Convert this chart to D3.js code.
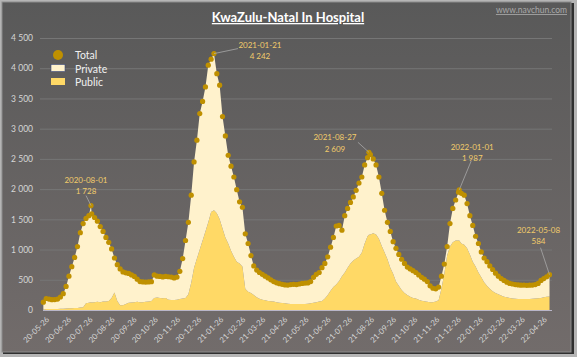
<!DOCTYPE html>
<html>
<head>
<meta charset="utf-8">
<script src="https://cdn.jsdelivr.net/npm/d3@7"></script>
<style>
  html, body { margin: 0; padding: 0; background: #9a9a9a; }
  svg { display: block; font-family: Lato, "Open Sans", sans-serif; }
</style>
</head>
<body>
<svg id="chart" width="577" height="357"></svg>
<script>
// ---------------- DATA ----------------
const startDate = "2020-05-26";   // first reading
const stepDays = 4;                // readings every 4 days
const totalBeds = [
  130,190,180,170,172,180,215,270,390,560,716,870,1050,1280,1430,1515,1560,1590,1530,1470,
  1380,1300,1200,1120,1010,860,750,680,630,615,605,580,555,510,470,465,462,465,468,580,
  560,555,548,555,550,545,530,545,640,850,1150,1450,1900,2450,2810,3250,3450,3690,4050,4150,
  4242,3910,3720,3200,2880,2560,2380,2200,1990,1790,1700,1260,1100,900,730,660,620,590,560,530,
  500,470,450,435,425,415,412,420,425,420,430,440,445,448,470,540,590,620,700,770,
  880,1040,1200,1390,1400,1320,1560,1680,1780,1870,1980,2100,2200,2400,2520,2570,2500,2400,2200,1930,
  1650,1450,1300,1130,1020,920,840,770,710,680,650,620,580,540,510,470,400,360,350,380,
  560,760,1050,1430,1680,1820,1950,1930,1900,1760,1560,1400,1220,1100,960,860,800,730,670,610,
  560,520,490,460,440,430,420,415,410,412,408,410,412,420,440,490,520,550,584
];
const publicBeds = [
  5,15,15,15,15,18,20,20,25,30,30,35,35,40,45,110,120,125,130,135,
  130,140,140,150,200,290,150,80,80,100,120,125,130,135,130,130,135,140,150,200,
  205,200,195,200,170,165,165,170,180,190,200,260,450,700,850,1000,1150,1300,1450,1620,
  1650,1600,1500,1350,1200,1100,980,880,800,770,720,350,300,280,250,210,185,170,160,150,
  145,140,130,120,115,110,105,100,100,100,100,100,100,105,110,120,130,140,150,190,
  250,320,380,420,480,560,620,700,770,820,850,880,950,1100,1220,1250,1270,1250,1180,1060,
  950,840,700,600,470,400,330,280,250,220,200,190,170,155,145,135,130,130,140,160,
  350,600,900,1050,1120,1150,1150,1100,1080,1020,920,800,720,620,540,460,400,350,310,280,
  260,240,220,210,200,190,185,180,180,180,180,180,185,190,195,200,210,220,225
];
// annotated points
const peakDates  = ["2020-08-01","2021-01-21","2021-08-27","2022-01-01","2022-05-08"];
const peakTotals = [1728, 4242, 2609, 1987, 584];
const peakPublic = [130, 1650, 1245, 1150, 225];
const yTicks = [0,500,1000,1500,2000,2500,3000,3500,4000,4500];
const seriesNames = ["Total","Private","Public"];
const titleText = "KwaZulu-Natal In Hospital";
const sourceText = "www.navchun.com";

// ---------------- LAYOUT ----------------
const W = 577, H = 357;
const plot = {left: 43, right: 552, top: 38, bottom: 310};
const labelOffsets = [[-5,-23],[46,-6],[-34,-12],[13,-40],[-11,-42]]; // label centre vs point
const leaderEnds = [[-5,-10],[24,-5],[-11,-10],[12,-29],[-9,-27]];
const colors = {total:"#BF9000", priv:"#FFF2CC", pub:"#FFD966", ann:"#F2CC6B"};

const parse = d3.timeParse("%Y-%m-%d");
const t0 = parse(startDate);
const DAY = 864e5;

// merge grid and annotated readings
const byTime = new Map();
totalBeds.forEach((v,i) => {
  const d = d3.timeDay.offset(t0, i*stepDays);
  byTime.set(+d, {date:d, total:v, pub:publicBeds[i]});
});
peakDates.forEach((s,i) => {
  const d = parse(s);
  byTime.set(+d, {date:d, total:peakTotals[i], pub:peakPublic[i]});
});
const data = Array.from(byTime.values()).sort((a,b)=>a.date-b.date)
  .map(d => ({date:d.date, total:d.total, Public:d.pub, Private:d.total-d.pub}));

const svg = d3.select("#chart");
const defs = svg.append("defs");
const grad = defs.append("linearGradient").attr("id","bg").attr("x1",0).attr("y1",0).attr("x2",0).attr("y2",1);
grad.append("stop").attr("offset","0%").attr("stop-color","#595959");
grad.append("stop").attr("offset","100%").attr("stop-color","#726c6b");

svg.append("rect").attr("x",0).attr("y",0).attr("width",W).attr("height",H).attr("fill","#b5b5b5");
svg.append("rect").attr("x",3).attr("y",3).attr("width",W-6).attr("height",H-6).attr("fill","#2f2f2f");
svg.append("rect").attr("x",2).attr("y",2).attr("width",W-8).attr("height",H-7)
  .attr("fill","url(#bg)").attr("stroke","#8c8c8c").attr("stroke-width",1);

const x = d3.scaleTime()
  .domain([new Date(+t0 - 0.5*DAY), new Date(+t0 + 715.5*DAY)])
  .range([plot.left, plot.right]);
const y = d3.scaleLinear().domain([0,4500]).range([plot.bottom, plot.top]);

const fmtNum = d3.formatLocale({decimal:".", thousands:" ", grouping:[3], currency:["",""]}).format(",d");

// gridlines
svg.append("g").selectAll("line").data(yTicks.filter(v=>v>0)).join("line")
  .attr("x1", plot.left-3).attr("x2", plot.right)
  .attr("y1", d=>y(d)+0.5).attr("y2", d=>y(d)+0.5)
  .attr("stroke","#767676").attr("stroke-width",1);

// stacked areas
const stack = d3.stack().keys(["Public","Private"]);
const layers = stack(data);
const area = d3.area().x(d=>x(d.data.date)).y0(d=>y(d[0])).y1(d=>y(d[1]));
svg.append("g").selectAll("path").data(layers).join("path")
  .attr("d", area)
  .attr("fill", d => d.key==="Public" ? colors.pub : colors.priv);

// baseline
svg.append("line").attr("x1",plot.left).attr("x2",plot.right)
  .attr("y1",plot.bottom+0.5).attr("y2",plot.bottom+0.5)
  .attr("stroke","#b9b6c9").attr("stroke-width",1);

// total dots
svg.append("g").selectAll("circle").data(data).join("circle")
  .attr("cx", d=>x(d.date)).attr("cy", d=>y(d.total)).attr("r", 2.6)
  .attr("fill", colors.total);

// y axis
const yAxis = d3.axisLeft(y).tickValues(yTicks).tickFormat(fmtNum).tickSize(0).tickPadding(0);
const gy = svg.append("g").attr("transform",`translate(${plot.left-10},0)`).call(yAxis);
gy.select(".domain").remove();
gy.selectAll("text").attr("fill","#d6d6d6").attr("font-size","8.5px").attr("font-family","Lato, sans-serif");

// x axis
const tickDates = d3.range(24).map(k => d3.timeMonth.offset(t0, k));
const xAxis = d3.axisBottom(x).tickValues(tickDates).tickFormat(d3.timeFormat("%y-%m-%d")).tickSize(0);
const gx = svg.append("g").attr("transform",`translate(0,${plot.bottom})`).call(xAxis);
gx.select(".domain").remove();
gx.selectAll("text")
  .attr("fill","#d6d6d6").attr("font-size","7.8px").attr("font-family","Lato, sans-serif")
  .attr("text-anchor","end")
  .attr("transform","translate(4,8) rotate(-45)")
  .attr("dy","0.35em").attr("y",0).attr("x",0);

// annotations
const ann = svg.append("g");
peakDates.forEach((s,i) => {
  const px = x(parse(s)), py = y(peakTotals[i]);
  const lx = px + labelOffsets[i][0], ly = py + labelOffsets[i][1];
  ann.append("line")
    .attr("x1", px + leaderEnds[i][0]).attr("y1", py + leaderEnds[i][1])
    .attr("x2", px).attr("y2", py)
    .attr("stroke","#a8a8a8").attr("stroke-width",0.8);
  const t = ann.append("text").attr("text-anchor","middle").attr("fill",colors.ann)
    .attr("font-size","8px");
  t.append("tspan").attr("x",lx).attr("y",ly).text(s);
  t.append("tspan").attr("x",lx).attr("y",ly+11.5).text(fmtNum(peakTotals[i]));
});

// title
svg.append("text").attr("x",288).attr("y",22).attr("text-anchor","middle")
  .attr("fill","#ffffff").attr("font-weight","bold").attr("font-size","13px")
  .attr("text-decoration","underline").text(titleText);
svg.append("text").attr("x",567).attr("y",13).attr("text-anchor","end")
  .attr("fill","#a9a9a9").attr("font-size","8.5px")
  .attr("text-decoration","underline").text(sourceText);

// legend
const lg = svg.append("g").attr("font-size","10.5px").attr("fill","#f0f0f0");
lg.append("circle").attr("cx",58).attr("cy",55).attr("r",5).attr("fill",colors.total);
lg.append("rect").attr("x",51).attr("y",64.5).attr("width",14).attr("height",7)
  .attr("fill",colors.priv).attr("stroke","#3b4a80").attr("stroke-width",0.6);
lg.append("rect").attr("x",51).attr("y",78).attr("width",14).attr("height",7).attr("fill",colors.pub);
[["Total",59],["Private",72.5],["Public",86]].forEach(([s,yy],i) => {
  lg.append("text").attr("x",75).attr("y",yy).text(seriesNames[i]);
});
</script>
</body>
</html>
